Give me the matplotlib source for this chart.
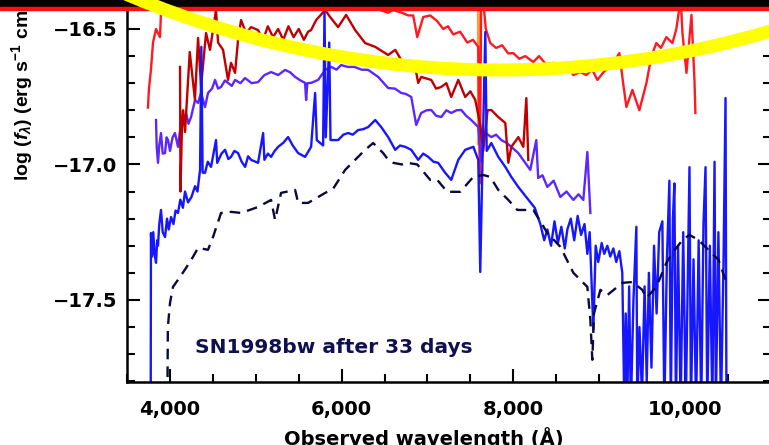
import numpy as np
import matplotlib.pyplot as plt
from matplotlib.patches import Rectangle, Arc
from matplotlib.ticker import MultipleLocator, FuncFormatter
from matplotlib.transforms import IdentityTransform

plt.rcParams['font.family'] = 'DejaVu Sans'
plt.rcParams['font.weight'] = 'bold'
plt.rcParams['mathtext.fontset'] = 'custom'
plt.rcParams['mathtext.rm'] = 'Liberation Sans:bold'
plt.rcParams['mathtext.it'] = 'Liberation Sans:italic:bold'
plt.rcParams['mathtext.bf'] = 'Liberation Sans:bold'

# spectra (wavelength in A, log flux)
red_wl = [3743, 3755, 3778, 3802, 3837, 3883, 3895, 3920, 4100, 5000, 6000, 6400,
          6450, 6540, 6600, 6700, 6776, 6834, 6881, 6950, 7032, 7110, 7184, 7240, 7300,
          7380, 7464, 7530, 7592, 7610, 7625, 7650, 7680, 7732, 7800, 7870, 7940, 8000,
          8070, 8140, 8233, 8300, 8380, 8467, 8550, 8620, 8700, 8781, 8850, 8920, 8980,
          9050, 9120, 9166, 9236, 9280, 9318, 9388, 9469, 9551, 9610, 9667, 9720, 9784,
          9854, 9900, 9936, 9950, 9971, 10018, 10076, 10111, 10122]
red_flux = [-16.79, -16.72, -16.65, -16.55, -16.50, -16.53, -16.44, -16.38, -16.30, -16.28,
            -16.30, -16.36, -16.43, -16.44, -16.43, -16.44, -16.45, -16.45, -16.53, -16.456,
            -16.45, -16.47, -16.50, -16.49, -16.52, -16.51, -16.55, -16.54, -16.566, -17.07,
            -16.42, -16.40, -16.50, -16.552, -16.57, -16.56, -16.59, -16.589, -16.61, -16.60,
            -16.622, -16.60, -16.63, -16.625, -16.65, -16.63, -16.67, -16.659, -16.67, -16.65,
            -16.688, -16.66, -16.64, -16.625, -16.589, -16.70, -16.788, -16.725, -16.80, -16.70,
            -16.60, -16.552, -16.57, -16.53, -16.552, -16.50, -16.42, -16.38, -16.515, -16.662,
            -16.448, -16.688, -16.81]

darkred_wl = [4117, 4122, 4140, 4152, 4175, 4230, 4290, 4327, 4362, 4420, 4466, 4536, 4560,
              4618, 4676, 4711, 4758, 4793, 4828, 4886, 4945, 5026, 5085, 5140, 5200, 5260,
              5320, 5380, 5440, 5500, 5560, 5609, 5644, 5703, 5808, 5866, 5959, 6052, 6157,
              6274, 6391, 6542, 6624, 6694, 6776, 6850, 6892, 6927, 7044, 7100, 7160, 7220,
              7277, 7359, 7440, 7500, 7557, 7615, 7650, 7700, 7744, 7825, 7907, 7942, 7977,
              8035, 8058, 8117, 8152, 8175]
darkred_flux = [-16.64, -17.10, -16.85, -16.80, -16.88, -16.585, -16.76, -16.533, -16.71,
                -16.515, -16.577, -16.43, -16.55, -16.577, -16.688, -16.625, -16.662, -16.54,
                -16.467, -16.515, -16.493, -16.504, -16.54, -16.49, -16.53, -16.50, -16.54,
                -16.49, -16.53, -16.50, -16.54, -16.51, -16.504, -16.467, -16.43, -16.456,
                -16.493, -16.448, -16.504, -16.552, -16.566, -16.596, -16.577, -16.614, -16.62,
                -16.63, -16.699, -16.677, -16.688, -16.72, -16.714, -16.70, -16.751, -16.688,
                -16.751, -16.73, -16.762, -16.854, -16.95, -16.80, -16.799, -16.825, -16.847,
                -16.994, -16.935, -16.91, -16.899, -16.935, -16.755, -16.983]

purple_wl = [3837, 3845, 3860, 3875, 3895, 3915, 3942, 3960, 3977, 4000, 4030, 4058, 4093,
             4128, 4160, 4187, 4215, 4245, 4292, 4327, 4362, 4408, 4443, 4490, 4525, 4560,
             4595, 4640, 4676, 4720, 4758, 4820, 4875, 4950, 5026, 5100, 5178, 5260, 5341,
             5400, 5458, 5520, 5574, 5586, 5600, 5644, 5726, 5808, 5878, 5940, 5994, 6070,
             6150, 6230, 6309, 6426, 6542, 6620, 6694, 6750, 6811, 6869, 6927, 6990, 7044,
             7100, 7160, 7220, 7277, 7340, 7394, 7450, 7510, 7592, 7630, 7660, 7744, 7800,
             7860, 7920, 7977, 8058, 8130, 8198, 8268, 8290, 8340, 8397, 8470, 8548, 8620,
             8700, 8760, 8816, 8863, 8898]
purple_flux = [-16.836, -16.935, -16.994, -16.93, -16.884, -16.96, -16.958, -16.90, -16.91,
               -16.95, -16.90, -16.884, -16.935, -16.847, -16.84, -16.81, -16.85, -16.825,
               -16.762, -16.773, -16.736, -16.788, -16.736, -16.72, -16.688, -16.72, -16.714,
               -16.69, -16.699, -16.71, -16.688, -16.70, -16.681, -16.70, -16.696, -16.67,
               -16.659, -16.67, -16.651, -16.66, -16.677, -16.69, -16.699, -16.762, -16.70,
               -16.699, -16.688, -16.651, -16.64, -16.65, -16.633, -16.64, -16.64, -16.65,
               -16.651, -16.677, -16.718, -16.72, -16.736, -16.74, -16.751, -16.854, -16.81,
               -16.80, -16.799, -16.82, -16.825, -16.80, -16.81, -16.80, -16.799, -16.82,
               -16.836, -16.862, -16.99, -16.88, -16.899, -16.89, -16.91, -16.92, -16.935,
               -16.958, -16.99, -17.02, -16.91, -17.05, -17.04, -17.083, -17.06, -17.12,
               -17.10, -17.131, -17.11, -17.131, -16.954, -17.179]

blue_wl = [3775, 3778, 3790, 3805, 3820, 3837, 3850, 3860, 3875, 3895, 3915, 3942, 3965,
           3985, 4012, 4040, 4065, 4093, 4120, 4150, 4175, 4210, 4250, 4292, 4320, 4350,
           4365, 4380, 4408, 4440, 4478, 4536, 4550, 4600, 4641, 4680, 4711, 4750, 4793,
           4835, 4875, 4910, 4945, 5026, 5085, 5100, 5140, 5178, 5220, 5260, 5320, 5376,
           5430, 5493, 5574, 5644, 5691, 5710, 5784, 5800, 5815, 5855, 5870, 5959, 6020,
           6076, 6130, 6192, 6250, 6309, 6391, 6461, 6542, 6624, 6680, 6741, 6811, 6892,
           6950, 7009, 7070, 7125, 7207, 7277, 7359, 7440, 7534, 7592, 7615, 7640, 7674,
           7690, 7744, 7825, 7907, 7977, 8058, 8150, 8250, 8315, 8360, 8397, 8440, 8480,
           8520, 8560, 8600, 8630, 8670, 8710, 8750, 8790, 8830, 8863, 8890, 8933, 8960,
           8990, 9030, 9060, 9096, 9130, 9166, 9200, 9236, 9270, 9294, 9310, 9330, 9350,
           9370, 9400, 9434, 9445, 9470, 9500, 9530, 9555, 9580, 9610, 9640, 9670, 9700,
           9737, 9760, 9790, 9819, 9835, 9860, 9877, 9895, 9920, 9950, 9980, 10010, 10053,
           10070, 10100, 10130, 10160, 10190, 10216, 10240, 10260, 10290, 10320, 10345,
           10360, 10390, 10420, 10450, 10473, 10484]
blue_flux = [-17.90, -17.253, -17.34, -17.25, -17.33, -17.363, -17.28, -17.30, -17.22,
             -17.168, -17.25, -17.268, -17.20, -17.24, -17.194, -17.22, -17.17, -17.179,
             -17.13, -17.16, -17.10, -17.14, -17.12, -17.08, -17.10, -17.02, -16.566, -17.03,
             -17.031, -16.99, -17.009, -16.91, -16.994, -16.96, -16.946, -16.98, -16.972,
             -16.95, -16.958, -16.99, -17.009, -16.97, -16.983, -16.994, -16.884, -16.983,
             -16.96, -16.972, -16.95, -16.935, -16.92, -16.899, -16.93, -16.958, -16.972,
             -16.935, -16.736, -16.91, -16.93, -16.43, -16.90, -16.55, -16.91, -16.91, -16.89,
             -16.884, -16.89, -16.873, -16.87, -16.862, -16.836, -16.862, -16.899, -16.946,
             -16.93, -16.935, -16.946, -16.983, -16.96, -16.972, -16.99, -16.994, -17.031,
             -17.057, -16.983, -16.946, -16.935, -16.983, -17.397, -17.0, -16.511, -16.95,
             -16.921, -16.972, -17.009, -17.046, -17.083, -17.12, -17.16, -17.22, -17.28,
             -17.24, -17.30, -17.21, -17.29, -17.23, -17.31, -17.24, -17.20, -17.28, -17.19,
             -17.26, -17.22, -17.33, -17.25, -17.61, -17.30, -17.36, -17.29, -17.33, -17.30,
             -17.34, -17.31, -17.36, -17.32, -17.40, -17.90, -17.55, -17.85, -17.45, -17.90,
             -17.50, -17.23, -17.90, -17.60, -17.85, -17.45, -17.80, -17.40, -17.75, -17.30,
             -17.55, -17.25, -17.21, -17.90, -17.35, -17.06, -17.90, -17.20, -17.07, -17.90,
             -17.30, -17.90, -17.25, -17.90, -17.01, -17.90, -17.35, -17.90, -17.28, -17.90,
             -17.22, -17.01, -17.90, -17.30, -17.90, -16.99, -17.90, -17.25, -17.90, -17.35,
             -16.755, -17.90]

model_wl = [3970, 3975, 4000, 4035, 4117, 4187, 4268, 4327, 4443, 4501, 4595, 4711, 4828,
            4991, 5026, 5178, 5224, 5294, 5458, 5493, 5609, 5808, 5900, 6041, 6192, 6274,
            6367, 6484, 6542, 6601, 6700, 6764, 6881, 7032, 7114, 7230, 7382, 7534, 7650,
            7732, 7825, 7942, 8047, 8233, 8397, 8548, 8700, 8863, 8898, 8921, 8940, 9015,
            9096, 9271, 9388, 9504, 9551, 9667, 9784, 9854, 9971, 10053, 10158, 10310,
            10391, 10473]
model_flux = [-17.85, -17.60, -17.511, -17.452, -17.415, -17.382, -17.341, -17.308, -17.315,
              -17.268, -17.179, -17.175, -17.179, -17.161, -17.157, -17.131, -17.205, -17.105,
              -17.094, -17.142, -17.142, -17.105, -17.09, -17.02, -16.972, -16.946, -16.921,
              -16.958, -16.983, -16.994, -17.0, -16.994, -17.0, -17.057, -17.057, -17.101,
              -17.101, -17.046, -17.039, -17.046, -17.094, -17.131, -17.168, -17.168, -17.253,
              -17.304, -17.40, -17.452, -17.574, -17.721, -17.55, -17.463, -17.482, -17.437,
              -17.434, -17.463, -17.493, -17.452, -17.363, -17.327, -17.279, -17.26, -17.279,
              -17.327, -17.352, -17.426]

telluric_wl = [7605, 7605]
telluric_flux = [-16.43, -16.92]

fig = plt.figure(figsize=(7.69, 4.45), dpi=100)
ax = fig.add_axes([127.1 / 769, 63 / 445, 643.65 / 769, 382 / 445])

lw = 1.7
ax.plot(telluric_wl, telluric_flux, color='#ff9a40', lw=3)
ax.plot(red_wl, red_flux, color='#ff1a22', lw=lw)
ax.plot(purple_wl, purple_flux, color='#5a28ff', lw=lw)
ax.plot(darkred_wl, darkred_flux, color='#c00000', lw=lw)
ax.plot(blue_wl, blue_flux, color='#1616ff', lw=lw)
ax.plot(model_wl, model_flux, color='#0a0a40', lw=lw, linestyle=(0, (4.5, 3.0)))

ax.text(4292, -17.696, 'SN1998bw after 33 days', color='#101050',
        fontsize=14.5, fontweight='bold', ha='left', va='baseline')

ax.set_xlim(3500, 11000)
ax.set_ylim(-17.803, -16.393)

ax.xaxis.set_major_locator(MultipleLocator(2000))
ax.xaxis.set_minor_locator(MultipleLocator(500))
ax.yaxis.set_major_locator(MultipleLocator(0.5))
ax.yaxis.set_minor_locator(MultipleLocator(0.1))
ax.xaxis.set_major_formatter(FuncFormatter(lambda v, p: f'{int(v):,}'))
ax.yaxis.set_major_formatter(FuncFormatter(lambda v, p: f'{v:.1f}'.replace('-', '\u2212')))

ax.tick_params(which='both', direction='in', right=True, top=False, width=1.5,
               labelsize=14, colors='black')
ax.tick_params(which='major', length=9.5)
ax.tick_params(which='minor', length=5.8)
ax.tick_params(axis='y', pad=7)
ax.tick_params(axis='x', pad=13)
for s in ax.spines.values():
    s.set_linewidth(1.8)
ax.spines['top'].set_visible(False)

ax.set_xlabel('Observed wavelength (Å)', fontsize=14, fontweight='bold', labelpad=5)
ax.xaxis.set_label_coords((424 - 127.1) / 643.65, -0.118)
ax.xaxis.label.set_va('top')
fig.text(22 / 769, (445 - 181) / 445,
         r'log ($f_{\lambda}$) (erg s$^{-1}$ cm$^{-2}$ Å$^{-1}$)',
         rotation=90, ha='center', va='bottom', fontsize=14, fontweight='bold',
         family='Liberation Sans')

# black band and red rule on top of the crop
fig.add_artist(Rectangle((0, (445 - 7) / 445), 1, 7 / 445, transform=fig.transFigure,
                         color='black', zorder=5))
fig.add_artist(Rectangle((0, (445 - 9.5) / 445), 1, 2.5 / 445, transform=fig.transFigure,
                         color='#ff1010', zorder=5))
# yellow highlight stroke
fig.add_artist(Arc((500, 1335), 1920, 1920, theta1=246, theta2=292,
                   transform=IdentityTransform(), color='#ffff00', lw=9.4, zorder=6))

fig.savefig('out.png', dpi=100)
